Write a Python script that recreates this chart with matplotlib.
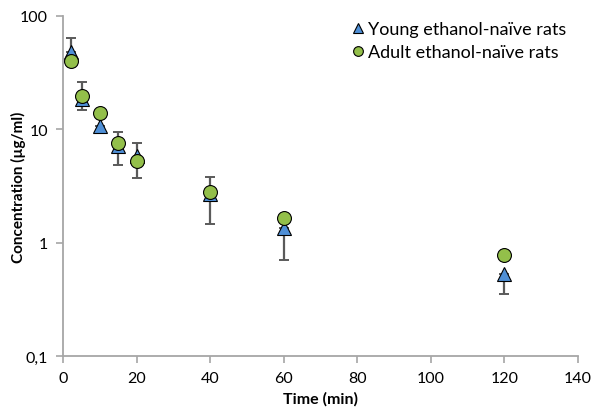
import numpy as np
import matplotlib.pyplot as plt
from matplotlib.ticker import FixedLocator, NullLocator

time = [2, 5, 10, 15, 20, 40, 60, 120]
young = [48, 18.5, 10.7, 7.1, 5.8, 2.7, 1.35, 0.53]
adult = [40, 19.5, 13.9, 7.6, 5.25, 2.8, 1.65, 0.78]
# error bars (young group): lower, upper
young_err_lo = [0, 3.7, 0, 2.3, 2.1, 1.24, 0.65, 0.18]
young_err_hi = [16, 7.5, 0, 2.4, 1.8, 1.1, 0, 0]

yticks = [0.1, 1, 10, 100]
ytick_labels = ['0,1', '1', '10', '100']
xticks = [0, 20, 40, 60, 80, 100, 120, 140]

plt.rcParams['font.family'] = ['Lato', 'DejaVu Sans']

fig = plt.figure(figsize=(5.91, 4.10), dpi=100)
ax = fig.add_axes([0.107, 0.129, 0.871, 0.83])

ax.errorbar(time, young, yerr=[young_err_lo, young_err_hi], fmt='none',
            ecolor='#5a5a5a', elinewidth=1.6, capsize=3.5, capthick=1.4,
            zorder=1)
ax.plot(time, young, linestyle='none', marker='^', markersize=10,
        markerfacecolor='#4f8fd6', markeredgecolor='black',
        markeredgewidth=0.8, label='Young ethanol-naïve rats', zorder=2)
ax.plot(time, adult, linestyle='none', marker='o', markersize=10,
        markerfacecolor='#93bf4a', markeredgecolor='black',
        markeredgewidth=0.8, label='Adult ethanol-naïve rats', zorder=3)

ax.set_yscale('log')
ax.set_ylim(0.1, 100)
ax.set_xlim(0, 140)
ax.yaxis.set_major_locator(FixedLocator(yticks))
ax.yaxis.set_minor_locator(NullLocator())
ax.set_yticklabels(ytick_labels)
ax.set_xticks(xticks)

for s in ['top', 'right']:
    ax.spines[s].set_visible(False)
for s in ['left', 'bottom']:
    ax.spines[s].set_color('#a6a6a6')
    ax.spines[s].set_linewidth(1.3)
ax.tick_params(direction='out', length=5, width=1.2, color='#a6a6a6',
               labelsize=11.5, labelcolor='black', pad=6)

ax.set_xlabel('Time (min)', fontsize=11.5, fontweight='bold', labelpad=4)
ax.set_ylabel('Concentration (µg/ml)', fontsize=11, fontweight='bold')
ax.yaxis.set_label_coords(-0.072, 0.5)

leg = ax.legend(loc='upper left', bbox_to_anchor=(350 / 591, 1 - 22 / 410),
                bbox_transform=fig.transFigure, frameon=False,
                fontsize=13, handletextpad=0.1, handlelength=0.9,
                markerscale=0.7, labelspacing=0.4, borderaxespad=0,
                borderpad=0)

fig.savefig('out.png', dpi=100)
